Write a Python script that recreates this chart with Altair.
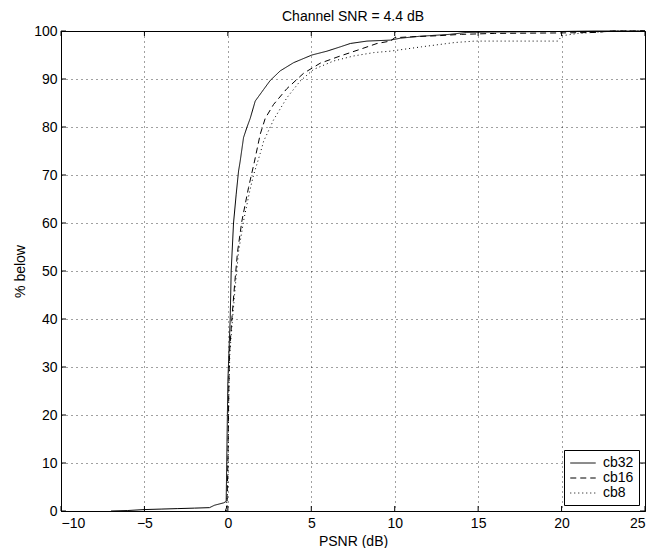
import altair as alt
import pandas as pd

# ---- data ----
cb32_x = [-7.0, -6.0, -5.0, -4.0, -3.0, -2.0, -1.1, -0.8, -0.25, -0.1, 0.0, 0.14, 0.2, 0.34, 0.5, 0.64,
          0.74, 0.94, 1.14, 1.34, 1.64, 2.14, 2.54, 3.14, 3.94, 5.04, 5.94, 6.74, 7.34, 8.34, 9.74,
          10.34, 11.5, 13.3, 14.3, 16.0, 20.0, 22.0, 25.0]
cb32_y = [0.0, 0.1, 0.3, 0.4, 0.5, 0.6, 0.7, 1.2, 1.7, 2.0, 27.0, 40.0, 50.0, 60.0, 66.0, 70.8,
          72.9, 77.8, 79.9, 81.8, 85.4, 87.8, 89.7, 91.7, 93.4, 95.0, 95.8, 96.7, 97.4, 97.9, 98.1,
          98.5, 98.9, 99.3, 99.7, 99.8, 99.9, 100.0, 100.0]

cb16_x = [-0.15, -0.05, 0.0, 0.06, 0.1, 0.24, 0.4, 0.58, 0.84, 1.24, 1.6, 1.94, 2.24, 2.74, 3.54,
          4.54, 5.54, 6.74, 7.94, 8.94, 9.74, 10.0, 11.0, 12.5, 14.0, 16.0, 20.0, 22.0, 23.0, 25.0]
cb16_y = [0.0, 1.0, 10.0, 26.0, 33.0, 40.0, 47.0, 54.0, 60.4, 67.4, 72.9, 78.5, 81.8, 84.7, 88.0,
          91.2, 93.3, 94.8, 96.2, 97.4, 97.9, 98.6, 98.8, 99.0, 99.3, 99.5, 99.6, 99.7, 100.0, 100.0]

cb8_x = [-0.1, 0.0, 0.06, 0.12, 0.28, 0.45, 0.64, 0.94, 1.3, 1.54, 1.94, 2.14, 2.74, 3.54, 4.34,
         5.14, 6.34, 7.54, 8.74, 9.74, 11.6, 13.6, 14.8, 19.8, 20.0, 21.0, 23.2, 25.0]
cb8_y = [0.0, 5.0, 25.0, 33.0, 40.0, 47.0, 54.0, 60.4, 66.5, 70.0, 74.5, 77.0, 81.5, 86.1, 89.6,
         92.0, 93.75, 94.8, 95.5, 95.8, 96.7, 97.6, 97.9, 97.9, 99.0, 99.5, 100.0, 100.0]

series_names = ["cb32", "cb16", "cb8"]
x_ticks = [-10, -5, 0, 5, 10, 15, 20, 25]
y_ticks = [0, 10, 20, 30, 40, 50, 60, 70, 80, 90, 100]

rows = []
for name, xs, ys in [("cb32", cb32_x, cb32_y), ("cb16", cb16_x, cb16_y), ("cb8", cb8_x, cb8_y)]:
    for i, (a, b) in enumerate(zip(xs, ys)):
        rows.append({"series": name, "psnr": a, "pct": b, "i": i})
df = pd.DataFrame(rows)

W, H = 584, 480
FONT = "Liberation Sans"
FS = 14

xscale = alt.Scale(domain=[-10, 25], nice=False, zero=False)
yscale = alt.Scale(domain=[0, 100], nice=False, zero=False)

axis_common = dict(grid=True, ticks=False, domain=True, domainColor="black",
                   labelColor="black", titleColor="black", labelFont=FONT, titleFont=FONT,
                   labelFontSize=FS, titleFontSize=FS, titleFontWeight="normal",
                   gridColor="black", gridDash=[1, 4], gridOpacity=0.75, gridWidth=1)

lines = alt.Chart(df).mark_line(color="black", strokeWidth=1).encode(
    x=alt.X("psnr:Q", scale=xscale,
            axis=alt.Axis(values=x_ticks, title="PSNR (dB)", labelPadding=5, titlePadding=4,
                          **axis_common)),
    y=alt.Y("pct:Q", scale=yscale,
            axis=alt.Axis(values=y_ticks, title="% below", labelPadding=4, titlePadding=6,
                          **axis_common)),
    strokeDash=alt.StrokeDash(
        "series:N",
        scale=alt.Scale(domain=series_names, range=[[1, 0], [6, 4], [1, 3]]),
        sort=series_names,
        legend=alt.Legend(title=None, orient="bottom-right", offset=6,
                          strokeColor="black", fillColor="white", padding=5,
                          symbolType="M-1.8,0H1.8", symbolSize=200, symbolStrokeColor="black",
                          symbolStrokeWidth=1, symbolOffset=6, labelFontSize=FS, labelFont=FONT,
                          labelColor="black", rowPadding=0, labelOffset=12, cornerRadius=0),
    ),
    order="i:Q",
)

xt = pd.DataFrame({"v": x_ticks})
yt = pd.DataFrame({"v": y_ticks})

xtick_b = alt.Chart(xt).mark_rule(color="black", strokeWidth=1).encode(
    x=alt.X("v:Q", scale=xscale), y=alt.value(H), y2=alt.value(H - 5))
xtick_t = alt.Chart(xt).mark_rule(color="black", strokeWidth=1).encode(
    x=alt.X("v:Q", scale=xscale), y=alt.value(0), y2=alt.value(5))
ytick_l = alt.Chart(yt).mark_rule(color="black", strokeWidth=1).encode(
    y=alt.Y("v:Q", scale=yscale), x=alt.value(0), x2=alt.value(5))
ytick_r = alt.Chart(yt).mark_rule(color="black", strokeWidth=1).encode(
    y=alt.Y("v:Q", scale=yscale), x=alt.value(W), x2=alt.value(W - 5))

chart = alt.layer(lines, xtick_b, xtick_t, ytick_l, ytick_r).properties(
    width=W, height=H,
    padding={"left": 5, "top": 2, "right": 5, "bottom": 0},
    background="white",
    title=alt.Title("Channel SNR = 4.4 dB", fontSize=FS, fontWeight="normal", font=FONT,
                    color="black", offset=0),
).configure_view(
    stroke="black", strokeWidth=1
)

chart.save("out.html", embed_options={"renderer": "svg", "actions": False})
